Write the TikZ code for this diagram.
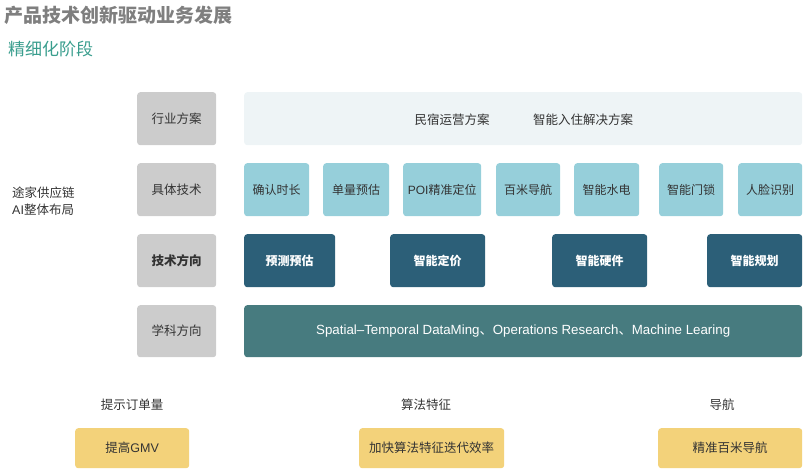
\documentclass[tikz,border=0pt]{standalone}
\usepackage{fontspec}
\setmainfont{Noto Sans CJK SC}
\newfontfamily\lat{Liberation Sans}
\definecolor{txt}{HTML}{333333}
\definecolor{ttl}{HTML}{7F7F7F}
\definecolor{sub}{HTML}{3A9E8E}
\definecolor{grayb}{HTML}{CCCCCC}
\definecolor{pale}{HTML}{EEF4F6}
\definecolor{light}{HTML}{96CFDA}
\definecolor{deep}{HTML}{2C5F78}
\definecolor{teal}{HTML}{477B7F}
\definecolor{yel}{HTML}{F3D27A}
\newcommand\cell[7]{\node[#6, minimum width={#4-#2}, minimum height={#5-#3}, anchor=north west] (#1) at (#2,#3) {#7};}
\begin{document}
\begin{tikzpicture}[x=1pt,y=-1pt,
  base/.style={rounded corners=3pt, inner sep=0pt, text=txt, font=\fontsize{12.5}{15}\selectfont},
  labelbox/.style={base, fill=grayb},
  palebox/.style={base, fill=pale},
  lightbox/.style={base, fill=light, font=\fontsize{12}{14}\selectfont},
  deepbox/.style={base, fill=deep, text=white, font=\fontsize{12}{14}\selectfont\bfseries},
  tealbox/.style={base, fill=teal, text=white, font=\fontsize{13.3}{15}\selectfont},
  yelbox/.style={base, fill=yel, font=\fontsize{12.5}{15}\selectfont},
  plain/.style={inner sep=0pt, text=txt, font=\fontsize{12.5}{15}\selectfont}]
\useasboundingbox (0,0) rectangle (806,474);
% titles
\node[anchor=west, inner sep=0pt, text=ttl, font=\fontsize{19}{22}\selectfont\bfseries] (title) at (4,15) {产品技术创新驱动业务发展};
\node[anchor=west, inner sep=0pt, text=sub, font=\fontsize{17}{20}\selectfont] (subtitle) at (8,49) {精细化阶段};
% left text
\node[anchor=west, inner sep=0pt, text=txt, align=left, font=\fontsize{12.5}{17}\selectfont] (left) at (12,201.5) {途家供应链\\{\lat AI}整体布局};
% row labels
\cell{r1}{137}{92}{216}{145}{labelbox}{行业方案}
\cell{r2}{137}{163}{216}{216}{labelbox}{具体技术}
\cell{r3}{137}{234}{216}{287}{labelbox}{\bfseries 技术方向}
\cell{r4}{137}{305}{216}{357}{labelbox}{学科方向}
% row 1
\cell{p1}{244}{92}{802}{145}{palebox}{}
\node[plain] (p1a) at (452,120) {民宿运营方案};
\node[plain] (p1b) at (583,120) {智能入住解决方案};
% row 2
\cell{t1}{244}{163}{309}{216}{lightbox}{确认时长}
\cell{t2}{323}{163}{389}{216}{lightbox}{单量预估}
\cell{t3}{403}{163}{481}{216}{lightbox}{{\lat POI}精准定位}
\cell{t4}{496}{163}{560}{216}{lightbox}{百米导航}
\cell{t5}{574}{163}{639}{216}{lightbox}{智能水电}
\cell{t6}{659}{163}{723}{216}{lightbox}{智能门锁}
\cell{t7}{738}{163}{802}{216}{lightbox}{人脸识别}
% row 3
\cell{d1}{244}{234}{335}{287}{deepbox}{预测预估}
\cell{d2}{390}{234}{485}{287}{deepbox}{智能定价}
\cell{d3}{552}{234}{647}{287}{deepbox}{智能硬件}
\cell{d4}{707}{234}{802}{287}{deepbox}{智能规划}
% row 4
\cell{s1}{244}{305}{802}{357}{tealbox}{{\lat Spatial–Temporal DataMing}、{\lat Operations Research}、{\lat Machine Learing}}
% bottom
\node[plain] (b1) at (132,405) {提示订单量};
\node[plain] (b2) at (426,405) {算法特征};
\node[plain] (b3) at (722,405) {导航};
\cell{y1}{75}{428}{189}{468}{yelbox}{提高{\lat GMV}}
\cell{y2}{359}{428}{504}{468}{yelbox}{加快算法特征迭代效率}
\cell{y3}{658}{428}{802}{468}{yelbox}{精准百米导航}
\end{tikzpicture}
\end{document}
